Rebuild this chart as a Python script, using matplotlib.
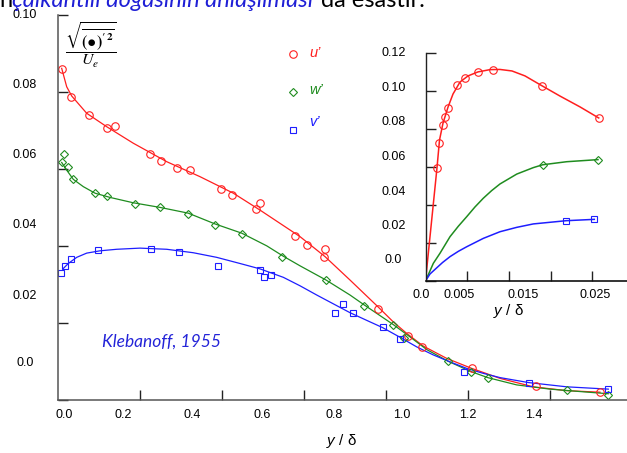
import matplotlib
matplotlib.use("Agg")
import matplotlib.pyplot as plt

plt.rcParams['font.family'] = ['Liberation Sans', 'DejaVu Sans']
plt.rcParams['mathtext.fontset'] = 'custom'
plt.rcParams['mathtext.it'] = 'Liberation Sans:italic'
plt.rcParams['mathtext.rm'] = 'Liberation Sans'

# ---------------- measured rms fluctuations, outer region ----------------
u_y = [0.012, 0.032, 0.076, 0.121, 0.139, 0.225, 0.251, 0.290, 0.323, 0.398,
       0.424, 0.484, 0.493, 0.579, 0.609, 0.652, 0.649, 0.780, 0.855, 0.889,
       1.009, 1.165, 1.322]
u_rms = [0.0860, 0.0788, 0.0740, 0.0707, 0.0713, 0.0639, 0.0622, 0.0603, 0.0598,
         0.0549, 0.0533, 0.0495, 0.0511, 0.0426, 0.0401, 0.0391, 0.0370, 0.0236,
         0.0166, 0.0136, 0.0081, 0.0036, 0.0020]

w_y = [0.017, 0.010, 0.025, 0.038, 0.091, 0.121, 0.188, 0.250, 0.319, 0.384,
       0.449, 0.548, 0.654, 0.747, 0.818, 0.845, 0.951, 1.007, 1.048, 1.240, 1.342]
w_rms = [0.0638, 0.0617, 0.0606, 0.0573, 0.0537, 0.0530, 0.0509, 0.0502, 0.0484,
         0.0455, 0.0432, 0.0371, 0.0311, 0.0243, 0.0195, 0.0161, 0.0100, 0.0071,
         0.0055, 0.0025, 0.0012]

v_y = [0.009, 0.018, 0.033, 0.099, 0.228, 0.297, 0.392, 0.494, 0.503, 0.519,
       0.676, 0.695, 0.721, 0.793, 0.834, 0.990, 1.148, 1.342]
v_rms = [0.0329, 0.0347, 0.0365, 0.0388, 0.0392, 0.0385, 0.0347, 0.0338, 0.0319,
         0.0325, 0.0226, 0.0248, 0.0226, 0.0188, 0.0157, 0.0071, 0.0042, 0.0027]

# smooth fitted profiles
u_fit_y = [0.0102, 0.0224, 0.0346, 0.0711, 0.1199, 0.1847, 0.2660, 0.3471, 0.4283,
           0.4933, 0.5907, 0.6516, 0.7125, 0.7800, 0.8180, 0.8507, 0.8911, 0.9481,
           1.0090, 1.0780, 1.1591, 1.2405, 1.3216]
u_fit = [0.0862, 0.0814, 0.0790, 0.0745, 0.0710, 0.0667, 0.0619, 0.0580, 0.0537,
         0.0493, 0.0424, 0.0372, 0.0311, 0.0242, 0.0202, 0.0172, 0.0139, 0.0107,
         0.0081, 0.0055, 0.0033, 0.0023, 0.0019]

w_fit_y = [0.0102, 0.0224, 0.0385, 0.0629, 0.0914, 0.1279, 0.1847, 0.2497, 0.3186,
           0.3837, 0.4487, 0.5096, 0.5500, 0.5907, 0.6541, 0.7125, 0.7474, 0.8180,
           0.8587, 0.8994, 0.9506, 1.0066, 1.0480, 1.1187, 1.1998, 1.2809, 1.3418]
w_fit = [0.0617, 0.0597, 0.0573, 0.0554, 0.0537, 0.0526, 0.0512, 0.0500, 0.0485,
         0.0457, 0.0433, 0.0400, 0.0373, 0.0348, 0.0311, 0.0272, 0.0246, 0.0195,
         0.0163, 0.0130, 0.0100, 0.0073, 0.0057, 0.0038, 0.0027, 0.0020, 0.0015]

v_fit_y = [0.0141, 0.0263, 0.0468, 0.0711, 0.1035, 0.1442, 0.2010, 0.2660, 0.3308,
           0.3878, 0.4446, 0.4933, 0.5501, 0.5907, 0.6314, 0.6719, 0.7125, 0.7532,
           0.7922, 0.8343, 0.8750, 0.9155, 0.9562, 0.9968, 1.0373, 1.0780, 1.1479,
           1.2405, 1.3418]
v_fit = [0.0341, 0.0354, 0.0370, 0.0381, 0.0387, 0.0391, 0.0394, 0.0391, 0.0382,
         0.0370, 0.0354, 0.0340, 0.0318, 0.0296, 0.0272, 0.0249, 0.0226, 0.0206,
         0.0187, 0.0162, 0.0137, 0.0116, 0.0098, 0.0081, 0.0068, 0.0057, 0.0044,
         0.0033, 0.0027]

# ---------------- near-wall region (inset) ----------------
u_in_y = [0.00138, 0.00158, 0.00206, 0.00238, 0.00273, 0.00381, 0.00474, 0.00626,
          0.00806, 0.01393, 0.02077]
u_in = [0.0596, 0.0727, 0.0818, 0.0864, 0.0908, 0.1030, 0.1069, 0.1097, 0.1111,
        0.1027, 0.0857]
w_in_y = [0.01405, 0.02068]
w_in = [0.0611, 0.0638]
v_in_y = [0.01688, 0.02024]
v_in = [0.0317, 0.0324]

u_in_fit_y = [0.0, 0.00138, 0.00168, 0.00210, 0.00270, 0.00330, 0.00414, 0.00510,
              0.00629, 0.00773, 0.00893, 0.01037, 0.01193, 0.01393, 0.01613,
              0.01853, 0.02077]
u_in_fit = [0.0, 0.0596, 0.0741, 0.0830, 0.0914, 0.0983, 0.1046, 0.1078, 0.1099,
            0.1111, 0.1112, 0.1104, 0.1078, 0.1027, 0.0972, 0.0915, 0.0857]
w_in_fit_y = [0.0, 0.00094, 0.00174, 0.00294, 0.00394, 0.00494, 0.00593, 0.00693,
              0.00793, 0.00893, 0.01094, 0.01293, 0.01405, 0.01693, 0.02068]
w_in_fit = [0.0, 0.0093, 0.0146, 0.0233, 0.0288, 0.0338, 0.0389, 0.0435, 0.0475,
            0.0510, 0.0562, 0.0596, 0.0611, 0.0627, 0.0638]
v_in_fit_y = [0.0, 0.00054, 0.00114, 0.00204, 0.00294, 0.00394, 0.00494, 0.00693,
              0.00893, 0.01094, 0.01293, 0.01688, 0.02024]
v_in_fit = [0.0, 0.0037, 0.0061, 0.0097, 0.0128, 0.0156, 0.0180, 0.0224, 0.0259,
            0.0282, 0.0300, 0.0317, 0.0324]

# tick label strings
main_y_labels = ['0.10', '0.08', '0.06', '0.04', '0.02', '0.0']
main_x_labels = ['0.0', '0.2', '0.4', '0.6', '0.8', '1.0', '1.2', '1.4']
inset_y_labels = ['0.12', '0.10', '0.08', '0.06', '0.04', '0.02', '0.0']
inset_x_labels = ['0.0', '0.005', '0.015', '0.025']
series_names = ['u’', 'w’', 'v’']

# ---------------- styling / layout ----------------
W, H = 627, 453
RED, GREEN, BLUE = '#ff1e1e', '#1f8c1f', '#1e1eff'
AXC = '#555555'


def fx(px):
    return px / W


def fy(py):
    return 1 - py / H


fig = plt.figure(figsize=(W / 100, H / 100), dpi=100)

# main axes
ax = fig.add_axes([fx(57.5), fy(399.5), 1 - fx(57.5), (399.5 - 15.3) / H])
ax.set_xlim(0, (W - 57.5) / 410.5)
ax.set_ylim(0, 0.10)

line_kw = dict(lw=0.9)
mk_kw = dict(ls='none', mfc='none', mew=0.8)
ax.plot(u_fit_y, u_fit, color=RED, **line_kw)
ax.plot(w_fit_y, w_fit, color=GREEN, **line_kw)
ax.plot(v_fit_y, v_fit, color=BLUE, **line_kw)
ax.plot(u_y, u_rms, marker='o', ms=5.4, mec=RED, **mk_kw)
ax.plot(w_y, w_rms, marker='D', ms=4.3, mec=GREEN, **mk_kw)
ax.plot(v_y, v_rms, marker='s', ms=4.8, mec=BLUE, **mk_kw)

for s in ['top', 'right']:
    ax.spines[s].set_visible(False)
for s in ['left', 'bottom']:
    ax.spines[s].set_color(AXC)
    ax.spines[s].set_linewidth(1.1)
ax.set_yticks([0.0, 0.02, 0.04, 0.06, 0.08, 0.10])
ax.set_xticks([0.2, 0.4, 0.6, 0.8, 1.0, 1.2])
ax.tick_params(direction='in', length=7, width=1.0, color='#222222',
               labelleft=False, labelbottom=False)
ax.patch.set_alpha(0)

# tick labels of main axes
for lab, py in zip(main_y_labels, [15, 85, 155, 225, 296, 363]):
    fig.text(fx(25), fy(py), lab, ha='center', va='center', fontsize=9)
for lab, px in zip(main_x_labels, [64.5, 123.3, 192.5, 261.7, 334, 401.7, 468, 534]):
    fig.text(fx(px), fy(415.5), lab, ha='center', va='center', fontsize=9)
fig.text(fx(341.7), fy(441), r'$y$ / δ', ha='center', va='center', fontsize=11)

# legend
for name, col, mk, ms, py_m, py_t in zip(series_names, [RED, GREEN, BLUE],
                                         ['o', 'D', 's'], [5.4, 4.3, 4.8],
                                         [54, 92.3, 130], [53, 90, 122.5]):
    fig.lines.append(plt.Line2D([fx(293.3)], [fy(py_m)], transform=fig.transFigure,
                                marker=mk, ms=ms, mfc='none', mec=col, mew=0.8,
                                ls='none'))
    fig.text(fx(309), fy(py_t), name, color=col, style='italic', fontsize=10.5,
             ha='left', va='center')

# normalisation formula
fig.text(fx(91), fy(45),
         r"$\dfrac{\sqrt{\overline{\mathbf{(\bullet)'^{2}}}}}{U_e}$",
         ha='center', va='center', fontsize=11.5, math_fontfamily='stix')

# source
fig.text(fx(102), fy(342), 'Klebanoff, 1955', family='Lato', style='italic',
         color='#2424d8', fontsize=12.5, ha='left', va='center')

# inset: near-wall region
axi = fig.add_axes([fx(425.5), fy(281), 1 - fx(425.5), (281 - 52.7) / H])
axi.set_xlim(0, (W - 425.5) / 8340)
axi.set_ylim(0, 0.12)
axi.plot(u_in_fit_y, u_in_fit, color=RED, lw=1.1)
axi.plot(w_in_fit_y, w_in_fit, color=GREEN, lw=1.1)
axi.plot(v_in_fit_y, v_in_fit, color=BLUE, lw=1.1)
axi.plot(u_in_y, u_in, marker='o', ms=5.4, mec=RED, **mk_kw)
axi.plot(w_in_y, w_in, marker='D', ms=4.3, mec=GREEN, **mk_kw)
axi.plot(v_in_y, v_in, marker='s', ms=4.8, mec=BLUE, **mk_kw)
for s in ['top', 'right']:
    axi.spines[s].set_visible(False)
axi.spines['left'].set_color('#222222')
axi.spines['bottom'].set_color('#111111')
axi.spines['left'].set_linewidth(1.0)
axi.spines['bottom'].set_linewidth(1.2)
axi.set_yticks([0.0, 0.02, 0.04, 0.06, 0.08, 0.10, 0.12])
axi.set_xticks([0.005, 0.010, 0.015, 0.020])
axi.tick_params(direction='in', length=7, width=1.0, color='#222222',
                labelleft=False, labelbottom=False)
axi.patch.set_alpha(0)

for lab, py in zip(inset_y_labels, [52.7, 87.7, 121.7, 156.7, 192, 225.7, 260]):
    fig.text(fx(393.5), fy(py), lab, ha='center', va='center', fontsize=9)
for lab, px in zip(inset_x_labels, [421, 458.7, 523.3, 595.3]):
    fig.text(fx(px), fy(295.5), lab, ha='center', va='center', fontsize=9)
fig.text(fx(508), fy(311), r'$y$ / δ', ha='center', va='center', fontsize=11)

# running sentence at the top edge
fig.text(fx(-1), fy(7), 'n', family='Lato', fontsize=17, va='baseline')
fig.text(fx(12), fy(7), 'çalkantılı doğasının anlaşılması', family='Lato',
         style='italic', color='#1f1fd6', fontsize=17, va='baseline')
fig.text(fx(321), fy(7), 'da esastır.', family='Lato', fontsize=17,
         va='baseline')

fig.savefig('out.png', dpi=100)
